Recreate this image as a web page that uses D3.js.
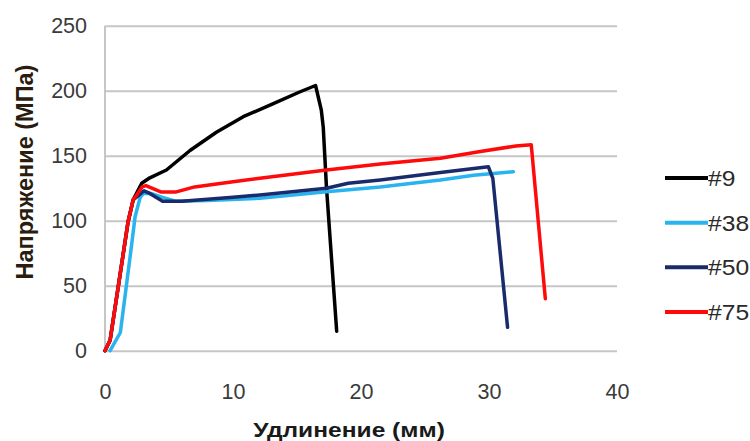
<!DOCTYPE html>
<html><head><meta charset="utf-8">
<script src="https://cdn.jsdelivr.net/npm/d3@7"></script>
<style>html,body{margin:0;padding:0;background:#fff;}svg{display:block;}</style>
</head><body>
<svg id="c" width="750" height="441"></svg>
<script>
const seriesNames = ["#9", "#38", "#50", "#75"];
const seriesColors = ["#000000", "#29b3ef", "#1a2b6b", "#ff0a0a"];
const xTicks = [0, 10, 20, 30, 40];
const yTicks = [0, 50, 100, 150, 200, 250];

const x9 = [0, 0.4, 1.8, 2.2, 2.87, 3.5, 4.8, 6.64, 8.7, 10.8, 13.15, 15.2, 16.45, 16.9, 17.05, 17.3, 18.1];
const y9 = [0, 8, 99, 116, 128.8, 133, 139, 154, 168, 180, 190, 199, 204, 185, 172, 126, 15];
const x38 = [0.4, 1.2, 2.1, 2.35, 2.75, 3.0, 3.6, 4.5, 5.5, 8, 12.1, 17.3, 21.5, 26.2, 28.8, 31.9];
const y38 = [0, 14, 83, 103, 118, 121, 121, 118, 115, 115.5, 117.2, 122.3, 126, 131.3, 135, 137.7];
const x50 = [0, 0.4, 1.8, 2.2, 2.8, 3.05, 3.5, 4.5, 6, 10, 12.1, 17.3, 19, 21.5, 26.2, 29.95, 30.3, 31.45];
const y50 = [0, 8, 99, 116, 121, 123, 121, 115, 115, 118, 119.8, 125, 128.8, 131.3, 137, 141.5, 132.6, 18];
const x75 = [0, 0.4, 1.8, 2.2, 2.9, 3.2, 4.4, 5.5, 7, 10, 12.1, 17.3, 21.5, 26.2, 29.2, 32.1, 33.3, 34.4];
const y75 = [0, 8, 99, 116, 126, 127, 122, 122, 126, 130, 132.6, 139, 143.6, 148, 153, 157.5, 158.5, 40];

const xs = [x9, x38, x50, x75];
const ys = [y9, y38, y50, y75];

const FONT = "Arial, 'Liberation Sans', sans-serif";
const svg = d3.select("#c");
const x = d3.scaleLinear().domain([0, 40]).range([105, 617]);
const y = d3.scaleLinear().domain([0, 250]).range([350.7, 25.7]);

// gridlines
const yAxis = d3.axisLeft(y).tickValues(yTicks).tickSize(-(617 - 105)).tickPadding(18);
const gy = svg.append("g").attr("transform", "translate(105,0)").call(yAxis);
gy.select(".domain").remove();
gy.selectAll(".tick line").attr("stroke", "#c6c6c6").attr("stroke-width", 2);
gy.selectAll(".tick text").attr("font-family", FONT)
  .attr("font-size", 21.5).attr("fill", "#3a3a3a");

// left axis line
svg.append("line").attr("x1", 105).attr("x2", 105).attr("y1", y(250)).attr("y2", y(0))
  .attr("stroke", "#c6c6c6").attr("stroke-width", 2);

const xAxis = d3.axisBottom(x).tickValues(xTicks).tickSize(0).tickPadding(33);
const gx = svg.append("g").attr("transform", `translate(0,${y(0)})`).call(xAxis);
gx.select(".domain").remove();
gx.selectAll(".tick text").attr("font-family", FONT)
  .attr("font-size", 21.5).attr("fill", "#3a3a3a");

// series (drawn in order; #50 drawn before #38 so #38 shows on the rise)
const line = d3.line().x(d => x(d[0])).y(d => y(d[1]));
[0, 1, 2, 3].forEach(i => {
  const pts = xs[i].map((v, k) => [v, ys[i][k]]);
  svg.append("path").datum(pts).attr("d", line).attr("fill", "none")
    .attr("stroke", seriesColors[i]).attr("stroke-width", 3.5)
    .attr("stroke-linejoin", "round").attr("stroke-linecap", "round");
});

// axis titles
svg.append("text").attr("transform", "translate(349,437) scale(1.17,1)").attr("text-anchor", "middle")
  .attr("font-family", FONT).attr("font-weight", "bold")
  .attr("font-size", 21).attr("fill", "#1a1a1a").text("Удлинение (мм)");
svg.append("text").attr("transform", "translate(33,172) rotate(-90)").attr("text-anchor", "middle")
  .attr("font-family", FONT).attr("font-weight", "bold")
  .attr("font-size", 23.5).attr("fill", "#2a1d10").text("Напряжение (МПа)");

// legend
const legY = d3.scalePoint().domain(seriesNames).range([178, 312]);
seriesNames.forEach((n, i) => {
  svg.append("line").attr("x1", 665).attr("x2", 708).attr("y1", legY(n)).attr("y2", legY(n))
    .attr("stroke", seriesColors[i]).attr("stroke-width", 4);
  svg.append("text").attr("transform", `translate(708,${legY(n)}) scale(1.12,1)`).attr("dy", "0.36em")
    .attr("font-family", FONT).attr("font-size", 22)
    .attr("fill", "#2a2a2a").text(n);
});
</script>
</body></html>
